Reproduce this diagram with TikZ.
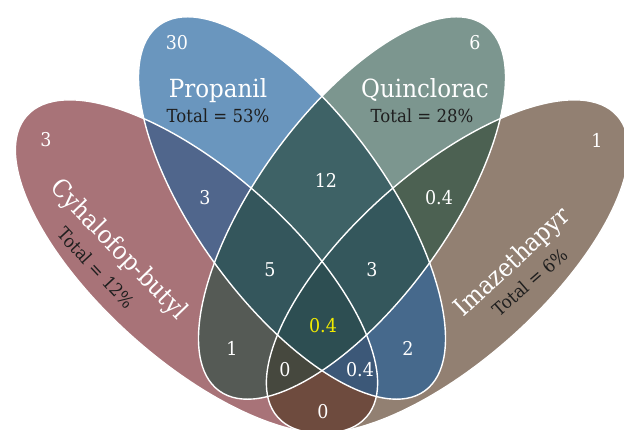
\documentclass[tikz,border=0pt]{standalone}
\usepackage{fontspec}
\setmainfont{DejaVu Serif}[FakeStretch=0.92]
\definecolor{cA}{HTML}{A87378}
\definecolor{cB}{HTML}{6A96BE}
\definecolor{cC}{HTML}{7C968F}
\definecolor{cD}{HTML}{928072}
\definecolor{cAB}{HTML}{50668C}
\definecolor{cAC}{HTML}{555A55}
\definecolor{cAD}{HTML}{6E4B3E}
\definecolor{cBC}{HTML}{3E6266}
\definecolor{cBD}{HTML}{46698C}
\definecolor{cCD}{HTML}{4C6152}
\definecolor{cABC}{HTML}{34565C}
\definecolor{cABD}{HTML}{3C5878}
\definecolor{cACD}{HTML}{46483E}
\definecolor{cBCD}{HTML}{34575C}
\definecolor{cABCD}{HTML}{2D4E52}
\definecolor{totcol}{HTML}{1E1E1E}
\definecolor{yel}{HTML}{F2EC00}
\newcommand\pA{\pgfpathellipse{\pgfpoint{196.5pt}{163.5pt}}{\pgfpoint{169.75pt}{-150.71pt}}{\pgfpoint{63.07pt}{71.04pt}}}
\newcommand\pB{\pgfpathellipse{\pgfpoint{292pt}{222pt}}{\pgfpoint{132.84pt}{-182.83pt}}{\pgfpoint{76.86pt}{55.84pt}}}
\newcommand\pC{\pgfpathellipse{\pgfpoint{352pt}{222pt}}{\pgfpoint{132.84pt}{182.83pt}}{\pgfpoint{-76.86pt}{55.84pt}}}
\newcommand\pD{\pgfpathellipse{\pgfpoint{447.5pt}{163.5pt}}{\pgfpoint{169.75pt}{150.71pt}}{\pgfpoint{-63.07pt}{71.04pt}}}
\newcommand\clA{\pA\pgfusepath{clip}}
\newcommand\clB{\pB\pgfusepath{clip}}
\newcommand\clC{\pC\pgfusepath{clip}}
\newcommand\clD{\pD\pgfusepath{clip}}
\newcommand\regfill[2]{\begin{pgfscope}#1\fill[#2] (0,0) rectangle (624,430);\end{pgfscope}}
\tikzset{
  num/.style={text=white, font=\fontsize{19}{19}\selectfont, inner sep=0pt},
  ttl/.style={text=white, font=\fontsize{25}{25}\selectfont, inner sep=0pt},
  tot/.style={text=totcol, font=\fontsize{18}{18}\selectfont, inner sep=0pt}
}
\begin{document}
\begin{tikzpicture}[x=1pt,y=1pt]
\useasboundingbox (0,0) rectangle (624,430);
\fill[white] (0,0) rectangle (624,430);
\clip (0,0) rectangle (624,430);
% single sets
\regfill{\clA}{cA}
\regfill{\clB}{cB}
\regfill{\clC}{cC}
\regfill{\clD}{cD}
% pairs
\regfill{\clA\clB}{cAB}
\regfill{\clA\clC}{cAC}
\regfill{\clA\clD}{cAD}
\regfill{\clB\clC}{cBC}
\regfill{\clB\clD}{cBD}
\regfill{\clC\clD}{cCD}
% triples
\regfill{\clA\clB\clC}{cABC}
\regfill{\clA\clB\clD}{cABD}
\regfill{\clA\clC\clD}{cACD}
\regfill{\clB\clC\clD}{cBCD}
% all four
\regfill{\clA\clB\clC\clD}{cABCD}
% outlines
\begin{pgfscope}
\pgfsetstrokecolor{white}\pgfsetlinewidth{1.4pt}
\pA\pgfusepath{stroke}
\pB\pgfusepath{stroke}
\pC\pgfusepath{stroke}
\pD\pgfusepath{stroke}
\end{pgfscope}
% titles
\node[ttl, anchor=base] (tB) at (218,332) {Propanil};
\node[tot, anchor=base] (totB) at (218,307) {Total = 53\%};
\node[ttl, anchor=base] (tC) at (425,332) {Quinclorac};
\node[tot, anchor=base] (totC) at (422,307) {Total = 28\%};
\node[ttl, rotate=-46] (tA) at (118,180) {Cyhalofop-butyl};
\node[tot, rotate=-47] (totA) at (96,162) {Total = 12\%};
\node[ttl, rotate=43] (tD) at (513,167) {Imazethapyr};
\node[tot, rotate=41] (totD) at (530,148) {Total = 6\%};
% numbers
\node[num] (nB) at (177,387) {30};
\node[num] (nC) at (475,387) {6};
\node[num] (nA) at (46,290) {3};
\node[num] (nD) at (597,290) {1};
\node[num] (nAB) at (205,232) {3};
\node[num] (nBC) at (326,250) {12};
\node[num] (nCD) at (439,232) {0.4};
\node[num] (nABC) at (270,160) {5};
\node[num] (nBCD) at (372,160) {3};
\node[num] (nAC) at (232,82) {1};
\node[num, text=yel] (nABCD) at (323,104) {0.4};
\node[num] (nBD) at (408,82) {2};
\node[num] (nACD) at (285,60) {0};
\node[num] (nABD) at (360,60) {0.4};
\node[num] (nAD) at (323,18) {0};
\end{tikzpicture}
\end{document}
